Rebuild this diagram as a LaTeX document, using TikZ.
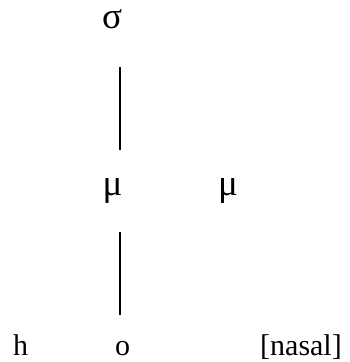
\documentclass[tikz,border=0pt]{standalone}
\usepackage{fontspec}
\setmainfont{Liberation Serif}
\begin{document}
\begin{tikzpicture}[x=1pt,y=-1pt,
  lbl/.style={inner sep=0pt,font=\fontsize{30}{34}\selectfont,anchor=base},
  grk/.style={lbl,font=\fontsize{37}{40}\selectfont},
  assoc/.style={line width=1.5pt}]
\useasboundingbox (0,0) rectangle (349,362);
\node[grk] (sigma) at (112,28) {σ};
\node[grk] (mu1) at (112.5,195) {μ};
\node[grk] (mu2) at (228,195) {μ};
\node[lbl] (h) at (20.5,355) {h};
\node[lbl] (o) at (122.5,355) {o};
\node[lbl] (nasal) at (301,355) {[nasal]};
\coordinate (a1) at (120,67);
\coordinate (a2) at (120,150);
\coordinate (b1) at (120,232);
\coordinate (b2) at (120,315);
\draw[assoc] (a1) -- (a2);
\draw[assoc] (b1) -- (b2);
\end{tikzpicture}
\end{document}
